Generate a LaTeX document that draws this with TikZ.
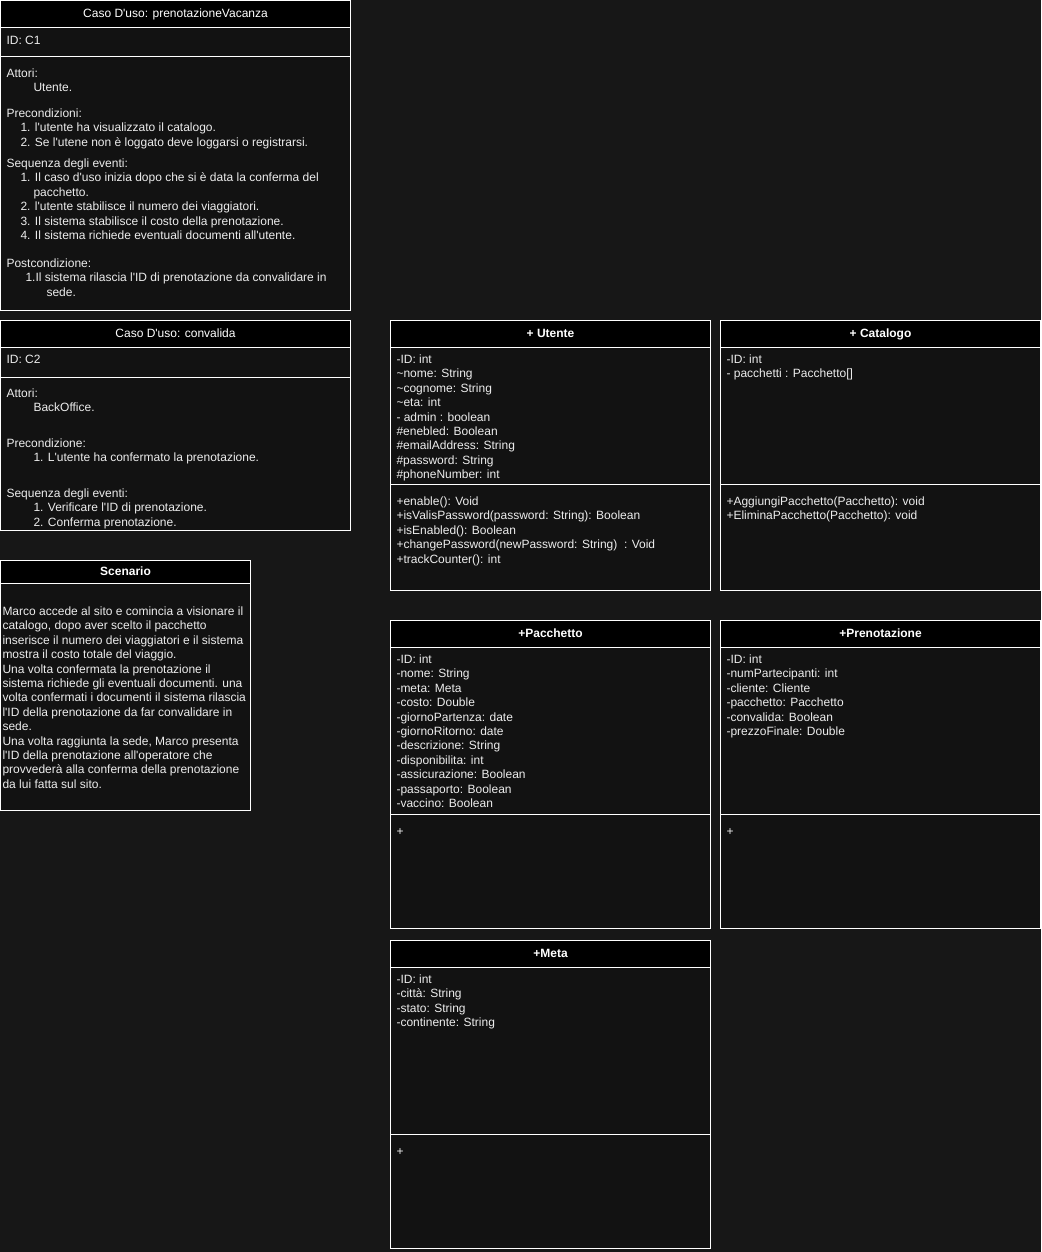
\documentclass[tikz,border=0pt]{standalone}
\usepackage{fontspec}
\setmainfont{Liberation Sans}[Ligatures=TeXOff]
\usetikzlibrary{positioning}
\definecolor{bg}{HTML}{171717}
\definecolor{boxfill}{HTML}{121212}
\definecolor{txtcol}{HTML}{EDEDED}

\begin{document}
\begin{tikzpicture}[x=1pt, y=-1pt,
    box/.style={draw=white, line width=1pt, fill=boxfill, anchor=north west, inner sep=0pt, outer sep=0pt},
    head/.style={draw=white, line width=1pt, fill=black, text=white, anchor=north west,
        inner sep=0pt, outer sep=0pt, minimum height=27pt, text height=8.8pt, text depth=2.6pt,
        font=\fontsize{12}{14.4}\selectfont},
    cls/.style={head, font=\fontsize{12}{14.4}\selectfont\bfseries},
    txt/.style={anchor=north west, inner sep=0pt, outer sep=0pt, align=left, text=txtcol,
        font=\fontsize{12}{14.4}\selectfont},
    sep/.style={draw=white, line width=1pt}]
    \fill[bg] (0,0) rectangle (1041,1252);

    % caso d'uso C1
    \node [box, minimum width=350pt, minimum height=310pt] (c1) at (0.5,0.5) {};
    \node [head, minimum width=350pt] (c1head) at (c1.north west) {Caso D'uso: prenotazioneVacanza};
    \draw [sep] (0.5,57) -- (350.5,57);
    \node [txt, below right=34pt and 6pt of c1.north west] (c1id) {\strut ID: C1};
    \node [txt, below right=67pt and 6pt of c1.north west] (c1att) {\strut Attori:\\
        \hspace*{27pt}Utente.};
    \node [txt, below right=107pt and 6pt of c1.north west] (c1pre) {\strut Precondizioni:\\
        \hspace*{14pt}1. l'utente ha visualizzato il catalogo.\\
        \hspace*{14pt}2. Se l'utene non è loggato deve loggarsi o registrarsi.};
    \node [txt, below right=157pt and 6pt of c1.north west] (c1seq) {\strut Sequenza degli eventi:\\
        \hspace*{14pt}1. Il caso d'uso inizia dopo che si è data la conferma del\\
        \hspace*{27pt}pacchetto.\\
        \hspace*{14pt}2. l'utente stabilisce il numero dei viaggiatori.\\
        \hspace*{14pt}3. Il sistema stabilisce il costo della prenotazione.\\
        \hspace*{14pt}4. Il sistema richiede eventuali documenti all'utente.};
    \node [txt, below right=257pt and 6pt of c1.north west] (c1post) {\strut Postcondizione:\\
        \hspace*{19pt}1.Il sistema rilascia l'ID di prenotazione da convalidare in\\
        \hspace*{40pt}sede.};

    % caso d'uso C2
    \node [box, minimum width=350pt, minimum height=210pt] (c2) at (0.5,320.5) {};
    \node [head, minimum width=350pt] (c2head) at (c2.north west) {Caso D'uso: convalida};
    \draw [sep] (0.5,377) -- (350.5,377);
    \node [txt, below right=33pt and 6pt of c2.north west] (c2id) {\strut ID: C2};
    \node [txt, below right=67pt and 6pt of c2.north west] (c2att) {\strut Attori:\\
        \hspace*{27pt}BackOffice.};
    \node [txt, below right=117pt and 6pt of c2.north west] (c2pre) {\strut Precondizione:\\
        \hspace*{27pt}1. L'utente ha confermato la prenotazione.};
    \node [txt, below right=167pt and 6pt of c2.north west] (c2seq) {\strut Sequenza degli eventi:\\
        \hspace*{27pt}1. Verificare l'ID di prenotazione.\\
        \hspace*{27pt}2. Conferma prenotazione.};

    % scenario
    \node [box, minimum width=250pt, minimum height=250pt] (scen) at (0.5,560.5) {};
    \node [cls, minimum width=250pt, minimum height=23pt] (scenhead) at (scen.north west) {Scenario};
    \node [txt, below right=45pt and 2pt of scen.north west] (scentxt) {\strut Marco accede al sito e comincia a visionare il\\
        catalogo, dopo aver scelto il pacchetto\\
        inserisce il numero dei viaggiatori e il sistema\\
        mostra il costo totale del viaggio.\\
        Una volta confermata la prenotazione il\\
        sistema richiede gli eventuali documenti. una\\
        volta confermati i documenti il sistema rilascia\\
        l'ID della prenotazione da far convalidare in\\
        sede.\\
        Una volta raggiunta la sede, Marco presenta\\
        l'ID della prenotazione all'operatore che\\
        provvederà alla conferma della prenotazione\\
        da lui fatta sul sito.};

    % classe Utente
    \node [box, minimum width=320pt, minimum height=270pt] (utente) at (390.5,320.5) {};
    \node [cls, minimum width=320pt] (utentehead) at (utente.north west) {+ Utente};
    \draw [sep] (390.5,484) -- (710.5,484);
    \node [txt, below right=33pt and 6pt of utente.north west] (utenteatt) {\strut -ID: int\\
        \textasciitilde nome: String\\
        \textasciitilde cognome: String\\
        \textasciitilde eta: int\\
        - admin : boolean\\
        \#enebled: Boolean\\
        \#emailAddress: String\\
        \#password: String\\
        \#phoneNumber: int};
    \node [txt, below right=175pt and 6pt of utente.north west] (utentemet) {\strut +enable(): Void\\
        +isValisPassword(password: String): Boolean\\
        +isEnabled(): Boolean\\
        +changePassword(newPassword: String)\ \ : Void\\
        +trackCounter(): int};

    % classe Catalogo
    \node [box, minimum width=320pt, minimum height=270pt] (catalogo) at (720.5,320.5) {};
    \node [cls, minimum width=320pt] (catalogohead) at (catalogo.north west) {+ Catalogo};
    \draw [sep] (720.5,484) -- (1040.5,484);
    \node [txt, below right=33pt and 6pt of catalogo.north west] (catalogoatt) {\strut -ID: int\\
        - pacchetti : Pacchetto[]};
    \node [txt, below right=175pt and 6pt of catalogo.north west] (catalogomet) {\strut +AggiungiPacchetto(Pacchetto): void\\
        +EliminaPacchetto(Pacchetto): void};

    % classe Pacchetto
    \node [box, minimum width=320pt, minimum height=308pt] (pacchetto) at (390.5,620.5) {};
    \node [cls, minimum width=320pt] (pacchettohead) at (pacchetto.north west) {+Pacchetto};
    \draw [sep] (390.5,814) -- (710.5,814);
    \node [txt, below right=33pt and 6pt of pacchetto.north west] (pacchettoatt) {\strut -ID: int\\
        -nome: String\\
        -meta: Meta\\
        -costo: Double\\
        -giornoPartenza: date\\
        -giornoRitorno: date\\
        -descrizione: String\\
        -disponibilita: int\\
        -assicurazione: Boolean\\
        -passaporto: Boolean\\
        -vaccino: Boolean};
    \node [txt, below right=205pt and 6pt of pacchetto.north west] (pacchettomet) {\strut +};

    % classe Prenotazione
    \node [box, minimum width=320pt, minimum height=308pt] (prenot) at (720.5,620.5) {};
    \node [cls, minimum width=320pt] (prenothead) at (prenot.north west) {+Prenotazione};
    \draw [sep] (720.5,814) -- (1040.5,814);
    \node [txt, below right=33pt and 6pt of prenot.north west] (prenotatt) {\strut -ID: int\\
        -numPartecipanti: int\\
        -cliente: Cliente\\
        -pacchetto: Pacchetto\\
        -convalida: Boolean\\
        -prezzoFinale: Double};
    \node [txt, below right=205pt and 6pt of prenot.north west] (prenotmet) {\strut +};

    % classe Meta
    \node [box, minimum width=320pt, minimum height=308pt] (meta) at (390.5,940.5) {};
    \node [cls, minimum width=320pt] (metahead) at (meta.north west) {+Meta};
    \draw [sep] (390.5,1134) -- (710.5,1134);
    \node [txt, below right=33pt and 6pt of meta.north west] (metaatt) {\strut -ID: int\\
        -città: String\\
        -stato: String\\
        -continente: String};
    \node [txt, below right=205pt and 6pt of meta.north west] (metamet) {\strut +};
\end{tikzpicture}
\end{document}
